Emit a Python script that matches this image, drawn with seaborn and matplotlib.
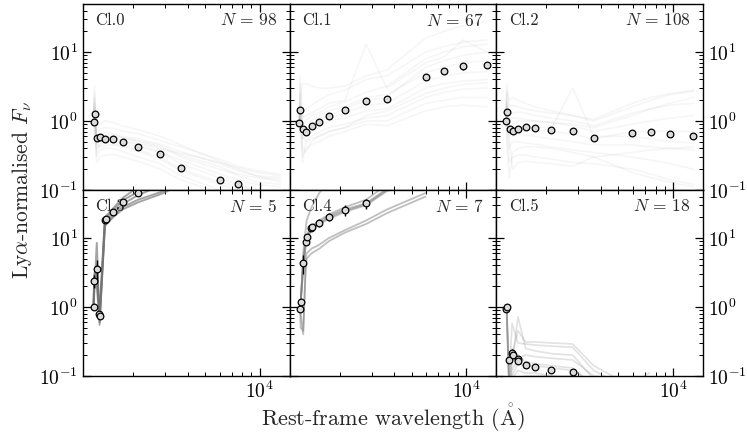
import numpy as np
import pandas as pd
import matplotlib
matplotlib.use("Agg")
import matplotlib.pyplot as plt
import matplotlib.ticker as mticker
import seaborn as sns

# ---------------------------------------------------------------------------
# Median (stacked) SEDs of each cluster, normalised at Ly-alpha
# ---------------------------------------------------------------------------
labels = ["Cl.0", "Cl.1", "Cl.2", "Cl.3", "Cl.4", "Cl.5"]
counts = [98, 67, 108, 5, 7, 18]

med_wl_0 = [1213, 1231, 1264, 1316, 1400, 1552, 1752, 2144, 2823, 3670, 6000, 7570]
med_f_0 = [0.98, 1.27, 0.56, 0.58, 0.54, 0.55, 0.50, 0.42, 0.33, 0.21, 0.14, 0.12]
med_e_0 = [0.03, 0.05, 0.02, 0.02, 0.02, 0.02, 0.02, 0.02, 0.015, 0.01, 0.008, 0.006]

med_wl_1 = [1199, 1209, 1251, 1305, 1402, 1538, 1738, 2137, 2797, 3635, 5953, 7544, 9592, 12996]
med_f_1 = [0.93, 1.45, 0.76, 0.70, 0.84, 0.98, 1.17, 1.42, 1.97, 2.08, 4.39, 5.38, 6.2, 6.5]
med_e_1 = [0.08, 0.15, 0.07, 0.06, 0.08, 0.09, 0.11, 0.13, 0.2, 0.22, 0.45, 0.55, 0.65, 0.7]

med_wl_2 = [1201, 1217, 1258, 1310, 1395, 1542, 1730, 2130, 2810, 3650, 5953, 7570, 9590, 12900]
med_f_2 = [0.99, 1.37, 0.76, 0.72, 0.76, 0.82, 0.79, 0.74, 0.71, 0.56, 0.68, 0.70, 0.64, 0.60]
med_e_2 = [0.05, 0.1, 0.05, 0.04, 0.04, 0.05, 0.05, 0.05, 0.05, 0.04, 0.05, 0.06, 0.05, 0.05]

med_wl_3 = [1213, 1224, 1264, 1305, 1316, 1402, 1420, 1555, 1752, 2137]
med_f_3 = [1.0, 2.37, 3.57, 0.80, 0.73, 18.4, 18.8, 23.7, 33.3, 44.5]
med_e_3 = [0.08, 0.5, 1.2, 0.06, 0.05, 1.2, 1.2, 1.6, 2.0, 2.5]

med_wl_4 = [1210, 1220, 1260, 1303, 1316, 1390, 1413, 1545, 1745, 2140, 2800]
med_f_4 = [0.93, 1.18, 4.3, 8.9, 10.2, 14.2, 14.7, 16.8, 20.5, 25.3, 31.9]
med_e_4 = [0.06, 0.08, 1.3, 0.9, 1.0, 1.4, 1.5, 2.3, 2.8, 4.6, 5.5]

med_wl_5 = [1199, 1209, 1251, 1292, 1303, 1390, 1402, 1538, 1738, 2130, 2795]
med_f_5 = [0.93, 1.0, 0.167, 0.213, 0.20, 0.175, 0.165, 0.145, 0.134, 0.122, 0.113]
med_e_5 = [0.03, 0.03, 0.015, 0.035, 0.02, 0.015, 0.015, 0.01, 0.008, 0.007, 0.006]

# ---------------------------------------------------------------------------
# Individual object SEDs drawn behind the medians
# ---------------------------------------------------------------------------
ind_wl_0 = [1210, 1228, 1260, 1316, 1400, 1550, 1750, 2140, 2820, 3670, 6000, 7570, 9600, 13000]
ind_f_0 = [
    [1.0, 3.2, 0.45, 0.60, 0.62, 0.62, 0.58, 0.50, 0.42, 0.30, 0.20, 0.17, 0.15, 0.14],
    [1.0, 2.0, 0.70, 0.75, 0.80, 0.78, 0.72, 0.65, 0.52, 0.42, 0.28, 0.22, 0.19, 0.17],
    [1.0, 1.5, 0.55, 0.55, 0.56, 0.55, 0.50, 0.45, 0.36, 0.24, 0.15, 0.12, 0.10, 0.09],
    [1.0, 0.8, 0.35, 0.45, 0.48, 0.47, 0.44, 0.38, 0.30, 0.20, 0.13, 0.11, 0.10, 0.10],
    [1.0, 1.1, 0.60, 0.65, 0.68, 0.66, 0.60, 0.55, 0.46, 0.36, 0.24, 0.19, 0.16, 0.15],
    [1.0, 2.6, 0.30, 0.38, 0.40, 0.40, 0.36, 0.30, 0.24, 0.16, 0.10, 0.08, 0.07, 0.06],
    [1.0, 1.3, 0.50, 0.52, 0.58, 0.60, 0.56, 0.52, 0.44, 0.32, 0.22, 0.16, 0.13, 0.12],
    [1.0, 0.6, 0.40, 0.48, 0.50, 0.50, 0.46, 0.42, 0.35, 0.27, 0.17, 0.14, 0.12, 0.11],
    [1.0, 1.8, 0.85, 0.90, 1.00, 0.95, 0.85, 0.75, 0.60, 0.45, 0.26, 0.20, 0.16, 0.13],
    [1.0, 0.9, 0.25, 0.30, 0.32, 0.33, 0.30, 0.26, 0.20, 0.14, 0.09, 0.07, 0.06, 0.05],
    [1.0, 1.2, 0.65, 0.58, 0.60, 0.57, 0.53, 0.47, 0.40, 0.34, 0.25, 0.21, 0.18, 0.16],
    [1.0, 2.2, 0.48, 0.42, 0.44, 0.45, 0.42, 0.36, 0.28, 0.19, 0.12, 0.10, 0.09, 0.08],
]

ind_wl_1 = [1200, 1210, 1250, 1305, 1400, 1540, 1740, 2140, 2800, 3640, 5950, 7540, 9590, 13000]
ind_f_1 = [
    [1.0, 2.5, 0.6, 0.5, 0.6, 0.7, 0.8, 0.9, 1.1, 1.2, 2.2, 2.6, 2.9, 3.0],
    [1.0, 1.6, 0.9, 0.9, 1.0, 1.2, 1.4, 1.6, 2.2, 2.4, 5.0, 6.0, 7.0, 7.5],
    [1.0, 1.2, 0.4, 0.35, 0.5, 0.6, 0.7, 0.8, 1.0, 1.0, 1.8, 2.0, 2.2, 2.2],
    [1.0, 3.5, 1.4, 1.5, 1.7, 2.0, 2.4, 2.8, 4.0, 4.5, 10.0, 12.0, 14.0, 15.0],
    [1.0, 1.4, 0.7, 0.7, 0.8, 0.95, 1.1, 1.3, 1.7, 1.8, 3.8, 4.5, 5.0, 5.2],
    [1.0, 0.8, 0.3, 0.4, 0.45, 0.5, 0.6, 0.7, 0.9, 0.85, 1.4, 1.6, 1.7, 1.6],
    [1.0, 2.0, 3.5, 3.5, 3.2, 3.0, 3.0, 3.2, 4.5, 5.5, 16.0, 20.0, 24.0, 28.0],
    [1.0, 1.8, 1.1, 1.2, 1.3, 1.5, 1.8, 2.0, 13.0, 3.0, 7.0, 8.5, 15.0, 10.0],
    [1.0, 1.3, 0.55, 0.6, 0.7, 0.8, 1.0, 1.1, 1.4, 1.5, 3.0, 3.5, 3.8, 4.0],
    [1.0, 1.1, 0.8, 0.75, 0.9, 1.05, 1.2, 1.5, 2.0, 2.2, 6.0, 7.5, 9.0, 10.0],
    [1.0, 4.5, 0.25, 0.5, 0.55, 0.6, 0.7, 0.8, 1.2, 1.4, 2.5, 3.0, 3.4, 3.6],
    [1.0, 1.5, 1.0, 1.0, 1.2, 1.3, 1.6, 1.9, 2.6, 3.2, 8.0, 10.0, 12.0, 13.0],
]

ind_wl_2 = [1200, 1210, 1250, 1305, 1400, 1540, 1740, 2140, 2800, 3640, 5950, 7540, 9590, 13000]
ind_f_2 = [
    [1.0, 2.5, 0.8, 0.9, 1.0, 1.0, 1.0, 0.95, 0.9, 0.8, 1.2, 1.5, 1.8, 2.2],
    [1.0, 1.4, 0.6, 0.7, 0.75, 0.75, 0.72, 0.7, 0.65, 0.55, 0.7, 0.7, 0.72, 0.7],
    [1.0, 1.1, 0.4, 0.5, 0.5, 0.48, 0.46, 0.42, 0.38, 0.35, 0.3, 0.27, 0.24, 0.2],
    [1.0, 3.5, 1.6, 1.7, 1.6, 1.5, 1.4, 1.3, 1.2, 1.0, 1.6, 2.0, 2.4, 2.7],
    [1.0, 1.8, 1.0, 1.1, 1.1, 1.05, 1.0, 0.95, 0.85, 0.7, 0.9, 1.0, 1.1, 1.2],
    [1.0, 0.7, 0.25, 0.3, 0.32, 0.32, 0.3, 0.28, 0.25, 0.24, 0.2, 0.17, 0.14, 0.12],
    [1.0, 1.3, 0.7, 0.8, 0.85, 0.85, 0.82, 0.8, 3.0, 0.6, 0.6, 0.55, 0.5, 0.48],
    [1.0, 2.0, 1.2, 1.3, 1.35, 1.3, 1.2, 1.1, 1.0, 0.85, 1.3, 1.5, 1.7, 1.8],
    [1.0, 0.5, 0.15, 0.35, 0.4, 0.42, 0.42, 0.4, 0.35, 0.3, 0.35, 0.38, 0.4, 0.42],
    [1.0, 1.6, 0.9, 0.6, 0.65, 0.62, 0.6, 0.55, 0.5, 0.45, 0.45, 0.42, 0.4, 0.38],
    [1.0, 1.2, 0.55, 0.2, 0.25, 0.26, 0.25, 0.24, 0.22, 0.3, 0.18, 0.15, 0.13, 0.11],
    [1.0, 2.8, 2.0, 2.2, 2.0, 1.8, 1.6, 1.4, 1.2, 1.05, 1.8, 2.2, 2.5, 2.8],
]

ind_wl_3 = [1213, 1224, 1264, 1310, 1402, 1555, 1752, 2137, 2950, 3660]
ind_f_3 = [
    [1.0, 1.6, 8.5, 0.55, 17.0, 23.0, 31.0, 42.0, 60.0, 80.0],
    [1.0, 3.0, 4.0, 0.75, 19.0, 25.0, 35.0, 47.0, 70.0, 90.0],
    [0.9, 2.2, 2.5, 0.85, 20.0, 27.0, 38.0, 55.0, 80.0, 100.0],
    [1.1, 2.8, 3.2, 0.70, 16.0, 21.0, 28.0, 36.0, 48.0, 65.0],
    [1.0, 1.9, 2.0, 0.60, 15.0, 20.0, 26.0, 33.0, 45.0, 60.0],
]

ind_wl_4 = [1210, 1220, 1260, 1303, 1316, 1400, 1545, 1745, 2140, 2800, 3650, 5950]
ind_f_4 = [
    [0.9, 1.2, 4.5, 9.0, 10.0, 14.0, 17.0, 21.0, 26.0, 32.0, 52.0, 80.0],
    [1.0, 1.1, 5.0, 10.0, 11.0, 15.0, 18.0, 22.0, 28.0, 36.0, 60.0, 90.0],
    [0.95, 1.3, 3.8, 8.0, 9.5, 13.0, 16.0, 19.0, 24.0, 30.0, 48.0, 70.0],
    [1.0, 1.0, 6.0, 14.0, 18.0, 28.0, 45.0, 70.0, 100.0, 140.0, 200.0, 300.0],
    [0.9, 0.8, 0.4, 5.0, 6.0, 7.0, 8.0, 10.0, 13.0, 18.0, 26.0, 45.0],
    [1.0, 0.5, 0.45, 4.0, 5.0, 6.0, 7.0, 9.0, 12.0, 16.0, 23.0, 40.0],
    [1.05, 1.2, 3.2, 9.5, 10.5, 13.5, 16.0, 20.0, 25.0, 31.0, 50.0, 75.0],
]

ind_wl_5 = [1199, 1209, 1251, 1295, 1396, 1538, 1738, 2130, 2795, 3650, 5950, 7400]
ind_f_5 = [
    [0.95, 1.0, 0.06, 0.15, 0.72, 0.25, 0.23, 0.21, 0.20, 0.09, 0.05, 0.05],
    [0.90, 1.0, 0.09, 0.58, 0.30, 0.29, 0.28, 0.27, 0.26, 0.12, 0.06, 0.05],
    [0.92, 1.0, 0.08, 0.20, 0.45, 0.31, 0.31, 0.30, 0.29, 0.14, 0.07, 0.06],
    [0.95, 1.0, 0.05, 0.12, 0.18, 0.20, 0.19, 0.18, 0.17, 0.10, 0.08, 0.11],
    [0.93, 1.0, 0.07, 0.10, 0.15, 0.14, 0.14, 0.13, 0.12, 0.08, 0.06, 0.05],
    [0.97, 1.0, 0.06, 0.09, 0.12, 0.11, 0.11, 0.10, 0.09, 0.06, 0.05, 0.04],
    [0.90, 1.0, 0.05, 0.25, 0.20, 0.16, 0.15, 0.14, 0.13, 0.07, 0.05, 0.04],
    [0.95, 1.0, 0.04, 0.07, 0.09, 0.10, 0.10, 0.10, 0.10, 0.07, 0.05, 0.05],
]

medians = [
    (med_wl_0, med_f_0, med_e_0), (med_wl_1, med_f_1, med_e_1), (med_wl_2, med_f_2, med_e_2),
    (med_wl_3, med_f_3, med_e_3), (med_wl_4, med_f_4, med_e_4), (med_wl_5, med_f_5, med_e_5),
]
individuals = [
    (ind_wl_0, ind_f_0), (ind_wl_1, ind_f_1), (ind_wl_2, ind_f_2),
    (ind_wl_3, ind_f_3), (ind_wl_4, ind_f_4), (ind_wl_5, ind_f_5),
]
# line styling of the individual SEDs (fewer objects -> more opaque)
line_style = [
    dict(color="0.5", alpha=0.07, lw=1.2),
    dict(color="0.5", alpha=0.07, lw=1.2),
    dict(color="0.5", alpha=0.07, lw=1.2),
    dict(color="0.45", alpha=0.65, lw=1.4),
    dict(color="0.50", alpha=0.50, lw=1.3),
    dict(color="0.55", alpha=0.25, lw=1.2),
]

sns.set_theme(style="ticks")
plt.rcParams.update({
    "font.family": ["cmr10", "DejaVu Serif"],
    "mathtext.fontset": "cm",
    "axes.formatter.use_mathtext": True,
    "axes.edgecolor": "black",
    "axes.linewidth": 1.0,
    "xtick.color": "black",
    "ytick.color": "black",
})

fig = plt.figure(figsize=(7.47, 4.34), dpi=100)
axes = fig.subplots(2, 3, sharex=True, sharey=True,
                    gridspec_kw=dict(hspace=0.0, wspace=0.0))
fig.subplots_adjust(left=0.111, right=0.941, top=0.991, bottom=0.134)

for i, ax in enumerate(axes.flat):
    wl, fl = individuals[i]
    df = pd.DataFrame(
        [(k, w, f) for k, row in enumerate(fl) for w, f in zip(wl, row)],
        columns=["obj", "wavelength", "flux"],
    )
    sns.lineplot(data=df, x="wavelength", y="flux", units="obj", estimator=None,
                 sort=False, ax=ax, legend=False, **line_style[i])

    mwl, mf, me = medians[i]
    ax.errorbar(mwl, mf, yerr=me, fmt="o", ms=4.8, mfc="0.86", mec="black",
                mew=0.9, ecolor="black", elinewidth=1.0, capsize=0, zorder=5)

    ax.set_xscale("log")
    ax.set_yscale("log")
    ax.set_xlim(1060, 14600)
    ax.set_ylim(0.1, 50)
    ax.set_xlabel("")
    ax.set_ylabel("")

    ax.text(0.06, 0.955, labels[i], transform=ax.transAxes, ha="left", va="top",
            fontsize=12)
    ax.text(0.94, 0.955, rf"$N\,=\,{counts[i]}$", transform=ax.transAxes,
            ha="right", va="top", fontsize=12.5)

    ax.xaxis.set_minor_formatter(mticker.NullFormatter())
    ax.yaxis.set_minor_locator(mticker.LogLocator(base=10, subs=np.arange(2, 10)))
    ax.yaxis.set_minor_formatter(mticker.NullFormatter())
    ax.tick_params(which="both", direction="in", top=True, right=True,
                   labelsize=14)
    ax.tick_params(which="major", length=6, width=0.9)
    ax.tick_params(which="minor", length=3, width=0.7)

    row, col = divmod(i, 3)
    ax.tick_params(labelbottom=(row == 1), labelleft=(col == 0),
                   labelright=(col == 2))

fig.text(0.03, 0.5 * (0.991 + 0.134), r"Ly$\alpha$-normalised $F_\nu$",
         rotation=90, ha="center", va="center", fontsize=15.5)
fig.text(0.5 * (0.111 + 0.941), 0.036,
         r"Rest-frame wavelength ($\mathring{\mathrm{A}}$)",
         ha="center", va="center", fontsize=16)

fig.savefig("out.png", dpi=100)
